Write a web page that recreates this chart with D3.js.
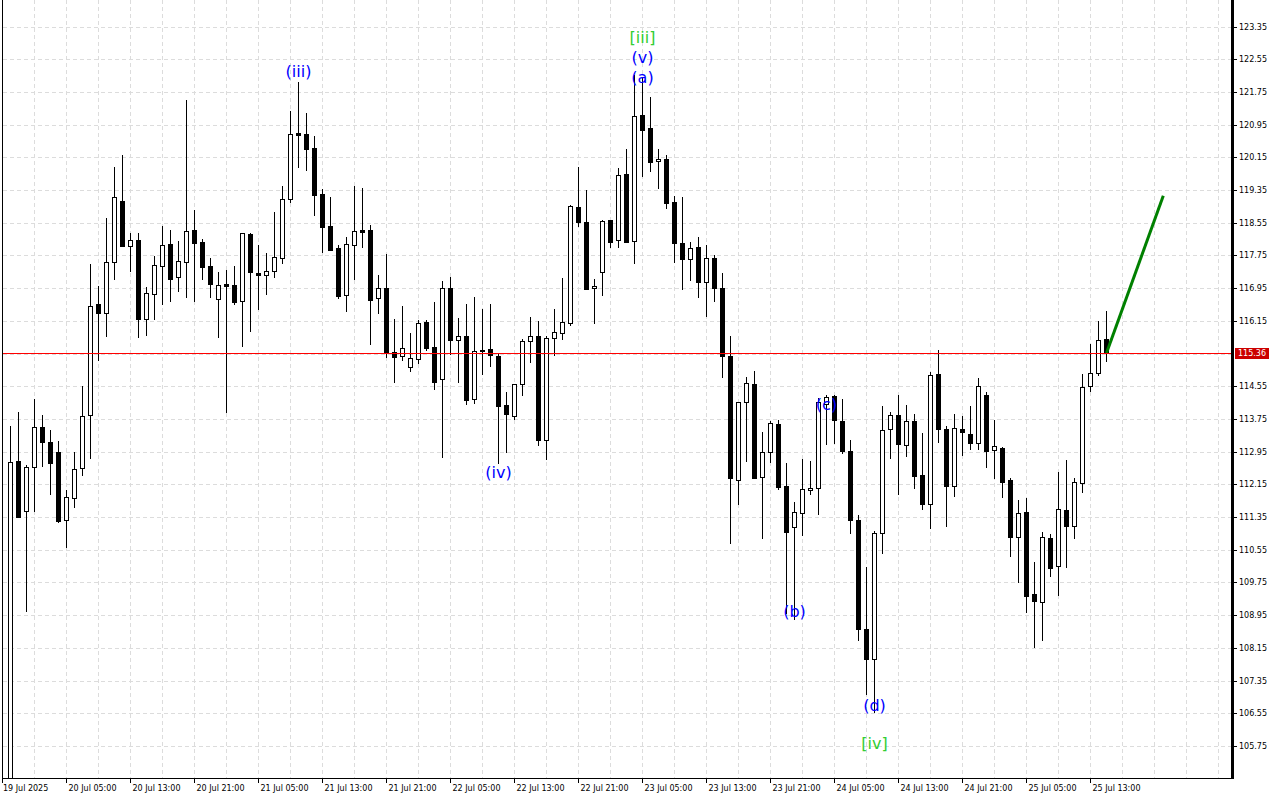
<!DOCTYPE html>
<html><head><meta charset="utf-8">
<script src="https://cdn.jsdelivr.net/npm/d3@7"></script>
<style>body{margin:0;background:#fff;} svg{display:block;}</style>
</head><body>
<svg id="c" width="1280" height="800"></svg>
<script>
// Hourly candles, first bar = 19 Jul 2025 22:00
const opens = [104.60,112.72,111.49,112.57,113.54,113.18,112.93,111.27,111.81,112.54,113.85,116.55,116.33,117.58,119.07,117.97,118.12,116.20,116.80,117.48,118.02,117.21,117.60,118.36,118.07,117.48,116.69,117.04,117.02,116.63,118.27,117.32,117.26,117.36,117.68,119.12,120.74,120.72,120.37,119.24,118.46,117.93,116.77,118.00,118.36,118.36,116.70,116.95,115.38,115.28,115.01,115.22,116.11,115.50,114.72,116.95,115.67,115.77,114.23,115.44,115.45,115.28,114.08,113.83,114.60,115.65,115.77,113.23,115.72,115.86,116.09,118.93,118.57,116.95,117.34,118.61,118.12,119.73,118.10,121.19,120.87,120.05,120.11,119.06,118.05,117.66,117.95,117.10,117.68,116.95,115.28,112.25,114.16,114.60,112.34,112.93,113.62,112.10,111.11,111.46,112.02,112.05,114.11,114.31,113.69,112.96,111.27,108.60,107.87,110.95,113.50,113.84,113.10,113.70,112.38,111.66,114.85,113.50,112.12,113.50,113.37,113.15,114.33,112.98,113.05,112.25,110.85,111.47,109.46,109.28,110.83,110.16,111.51,111.14,112.19,114.55,114.87,115.70];
const highs = [113.58,113.92,112.61,114.24,113.85,113.47,113.21,112.01,112.94,114.55,117.54,116.99,118.67,119.91,120.20,118.31,118.29,116.98,117.74,118.47,118.37,118.10,121.55,118.86,118.14,117.68,117.34,117.39,117.48,118.30,118.31,118.00,117.81,118.81,119.46,121.28,122.00,121.23,120.67,119.37,119.17,118.00,118.20,119.44,119.39,118.49,117.27,117.78,116.19,116.51,115.85,116.17,116.16,116.61,117.12,117.22,116.22,116.56,116.73,116.44,116.55,115.34,114.40,114.60,115.71,116.24,116.15,115.78,116.44,117.20,118.98,119.92,119.35,117.18,118.62,118.62,119.89,120.35,122.16,122.09,121.62,120.35,120.21,119.20,119.17,118.08,118.20,118.00,117.77,117.32,115.78,114.17,114.78,114.92,113.43,113.69,113.72,112.67,111.71,112.77,112.73,114.26,114.33,114.33,114.23,113.23,111.41,110.12,111.00,114.07,113.93,114.33,114.09,113.87,113.40,114.90,115.44,113.58,113.87,113.81,114.07,114.75,114.40,113.72,113.06,112.30,111.76,111.81,110.25,110.98,110.93,112.45,112.74,112.30,114.85,115.59,116.14,116.39];
const lows = [104.50,111.35,109.03,111.48,112.58,111.89,111.21,110.60,111.58,112.36,112.78,115.17,115.76,117.16,117.96,117.35,115.74,115.79,116.16,116.54,116.62,116.86,116.71,116.62,117.16,116.71,115.74,113.90,116.54,115.52,115.88,116.41,116.79,117.20,117.55,119.02,119.90,119.82,118.71,117.82,117.87,116.69,116.37,117.15,117.94,115.56,116.32,115.25,114.62,115.16,114.89,115.10,115.42,114.46,112.80,115.32,114.64,114.10,114.12,114.83,115.01,112.65,112.92,113.73,114.32,115.12,113.09,112.75,115.28,115.69,116.03,118.45,116.91,116.08,116.75,117.94,117.93,118.05,117.55,119.68,119.80,119.38,118.88,117.57,116.90,117.13,116.72,116.25,116.62,114.74,110.68,111.65,112.70,112.29,110.82,112.67,112.00,108.98,108.83,110.89,111.90,111.41,113.10,113.13,112.89,110.94,108.32,106.99,106.55,110.44,112.78,111.90,112.82,112.04,111.53,111.05,113.16,111.11,111.83,112.85,112.98,112.99,112.56,112.29,111.82,110.38,109.74,108.99,108.14,108.32,109.89,109.42,110.11,110.82,111.94,114.41,114.80,115.15];
const closes = [112.69,111.36,112.57,113.54,113.18,112.66,111.26,111.83,112.53,113.81,116.52,116.35,117.58,119.17,117.99,118.12,116.20,116.82,117.51,118.00,117.18,117.61,118.34,118.06,117.47,117.06,117.02,117.01,116.62,118.29,117.34,117.26,117.36,117.70,119.12,120.71,120.70,120.35,119.23,118.45,117.89,116.76,118.02,118.34,118.33,116.67,116.95,115.39,115.27,115.49,115.23,116.09,115.48,114.66,116.95,115.69,115.79,114.22,115.41,115.42,115.31,114.07,113.86,114.60,115.65,115.77,113.23,115.72,115.87,116.11,118.95,118.56,116.93,117.00,118.59,118.09,119.72,118.08,121.15,120.83,120.04,120.10,119.02,118.06,117.65,117.94,117.09,117.68,116.96,115.28,112.30,114.17,114.62,112.31,112.93,113.65,112.09,110.98,111.48,112.03,112.05,114.16,114.29,113.72,112.97,111.27,108.60,107.87,110.97,113.47,113.84,113.13,113.70,112.36,111.66,114.82,113.50,112.10,113.52,113.42,113.15,114.55,112.97,113.08,112.21,110.87,111.44,109.42,109.30,110.85,110.11,111.54,111.14,112.20,114.52,114.87,115.67,115.36];

const priceTicks = [123.35,122.55,121.75,120.95,120.15,119.35,118.55,117.75,116.95,116.15,115.35,114.55,113.75,112.95,112.15,111.35,110.55,109.75,108.95,108.15,107.35,106.55,105.75];
const timeLabelIndex = [7,15,23,31,39,47,55,63,71,79,87,95,103,111,119,127,135];
const timeLabelText = ["20 Jul 05:00","20 Jul 13:00","20 Jul 21:00","21 Jul 05:00","21 Jul 13:00","21 Jul 21:00","22 Jul 05:00","22 Jul 13:00","22 Jul 21:00","23 Jul 05:00","23 Jul 13:00","23 Jul 21:00","24 Jul 05:00","24 Jul 13:00","24 Jul 21:00","25 Jul 05:00","25 Jul 13:00"];
const firstLabel = "19 Jul 2025";

const waveText  = ["(iii)","[iii]","(v)","(a)","(iv)","(b)","(c)","(d)","[iv]"];
const waveIndex = [36,79,79,79,61,98,102,108,108];
const wavePrice = [122.24,123.07,122.58,122.11,112.45,109.05,114.11,106.73,105.80];
const waveColor = ["#0000ff","#32cd32","#0000ff","#0000ff","#0000ff","#0000ff","#0000ff","#0000ff","#32cd32"];

const lastPrice = 115.36;
const projIndex = [137, 144.1];
const projPrice = [115.36, 119.21];

const svg = d3.select("#c");
const W = 1280, H = 800;
const plotL = 3, plotR = 1231, plotT = 0, plotB = 778;

const x = d3.scaleLinear().domain([0, 137]).range([10.5, 1106.5]);
const y = d3.scaleLinear().domain([105.75, 123.35]).range([745.9, 26.5]);

svg.append("rect").attr("width", W).attr("height", H).attr("fill", "#fff");
svg.append("defs").append("clipPath").attr("id", "clip")
  .append("rect").attr("x", plotL).attr("y", plotT).attr("width", plotR - plotL).attr("height", plotB - plotT);

const grid = svg.append("g").attr("class", "grid").attr("shape-rendering", "crispEdges");
grid.selectAll("line.h").data(priceTicks).join("line").attr("class", "h")
  .attr("x1", plotL).attr("x2", plotR)
  .attr("y1", d => Math.round(y(d)) + 0.5).attr("y2", d => Math.round(y(d)) + 0.5)
  .attr("stroke", "#dcdcdc").attr("stroke-dasharray", "4,3");
const vIdx = d3.range(3, 153, 4).filter(i => x(i) < plotR);
grid.selectAll("line.v").data(vIdx).join("line").attr("class", "v")
  .attr("x1", d => x(d)).attr("x2", d => x(d))
  .attr("y1", plotT).attr("y2", plotB)
  .attr("stroke", "#dcdcdc").attr("stroke-dasharray", "4,3");

const plot = svg.append("g").attr("clip-path", "url(#clip)");

const candles = d3.range(opens.length).map(i => ({i, o: opens[i], h: highs[i], l: lows[i], c: closes[i]}));
const cg = plot.append("g").attr("shape-rendering", "crispEdges");
cg.selectAll("line.wick").data(candles).join("line").attr("class", "wick")
  .attr("x1", d => x(d.i)).attr("x2", d => x(d.i))
  .attr("y1", d => y(d.h)).attr("y2", d => y(d.l))
  .attr("stroke", "#000").attr("stroke-width", 1);
cg.selectAll("path.body").data(candles).join("path").attr("class", "body")
  .attr("d", d => {
    const x0 = x(d.i) - 2, x1 = x(d.i) + 2;
    const yt = Math.round(y(Math.max(d.o, d.c))) + 0.5;
    const yb = Math.round(y(Math.min(d.o, d.c))) + 0.5;
    return `M${x0},${yt}H${x1}V${yb}H${x0}Z`;
  })
  .attr("fill", d => d.c >= d.o ? "#fff" : "#000")
  .attr("stroke", "#000").attr("stroke-width", 1);

// red current price line (over candles, like the reference)
const ly = Math.round(y(lastPrice));
svg.append("rect").attr("x", plotL).attr("y", ly).attr("width", plotR - plotL).attr("height", 1)
  .attr("fill", "#ff0000");

// projection line
plot.append("line")
  .attr("x1", x(projIndex[0])).attr("y1", y(projPrice[0]))
  .attr("x2", x(projIndex[1])).attr("y2", y(projPrice[1]))
  .attr("stroke", "#008000").attr("stroke-width", 3);

// wave labels
plot.selectAll("text.wave").data(waveText).join("text").attr("class", "wave")
  .attr("x", (d, k) => x(waveIndex[k]))
  .attr("y", (d, k) => y(wavePrice[k]))
  .attr("text-anchor", "middle").attr("dominant-baseline", "central")
  .attr("font-family", "DejaVu Sans, sans-serif").attr("font-size", 16)
  .attr("fill", (d, k) => waveColor[k])
  .text(d => d);

// frame / axes
const ax = svg.append("g").attr("shape-rendering", "crispEdges");
ax.append("line").attr("x1", 2.5).attr("x2", 2.5).attr("y1", plotT).attr("y2", plotB + 5).attr("stroke", "#000");
ax.append("line").attr("x1", plotL).attr("x2", plotR + 3).attr("y1", plotB + 0.5).attr("y2", plotB + 0.5).attr("stroke", "#000");
ax.append("rect").attr("x", 1231).attr("y", 0).attr("width", 3).attr("height", plotB + 1).attr("fill", "#000");

const pt = priceTicks.filter(p => Math.abs(p - lastPrice) > 0.2);
ax.selectAll("line.pt").data(pt).join("line").attr("class", "pt")
  .attr("x1", 1234).attr("x2", 1237)
  .attr("y1", d => Math.round(y(d)) + 0.5).attr("y2", d => Math.round(y(d)) + 0.5)
  .attr("stroke", "#000");
svg.selectAll("text.pl").data(pt).join("text").attr("class", "pl")
  .attr("x", 1239).attr("y", d => Math.round(y(d)) + 0.5)
  .attr("dominant-baseline", "central")
  .attr("font-family", "DejaVu Sans, sans-serif").attr("font-size", 8)
  .attr("fill", "#000").text(d => d.toFixed(2));
svg.append("rect").attr("x", 1235).attr("y", ly - 5).attr("width", 34).attr("height", 11).attr("fill", "#cc0000");
svg.append("text").attr("x", 1252).attr("y", ly + 0.5).attr("text-anchor", "middle")
  .attr("dominant-baseline", "central")
  .attr("font-family", "DejaVu Sans, sans-serif").attr("font-size", 8)
  .attr("fill", "#fff").text(lastPrice.toFixed(2));

const tickX = timeLabelIndex.map(i => x(i));
ax.selectAll("line.tt").data(tickX).join("line").attr("class", "tt")
  .attr("x1", d => d).attr("x2", d => d).attr("y1", plotB).attr("y2", plotB + 5)
  .attr("stroke", "#000");
svg.selectAll("text.tl").data(timeLabelText).join("text").attr("class", "tl")
  .attr("x", (d, k) => tickX[k] + 2).attr("y", 791)
  .attr("font-family", "DejaVu Sans, sans-serif").attr("font-size", 8)
  .attr("fill", "#000").text(d => d);
svg.append("text").attr("x", 3).attr("y", 791)
  .attr("font-family", "DejaVu Sans, sans-serif").attr("font-size", 8)
  .attr("fill", "#000").text(firstLabel);
</script>
</body></html>
